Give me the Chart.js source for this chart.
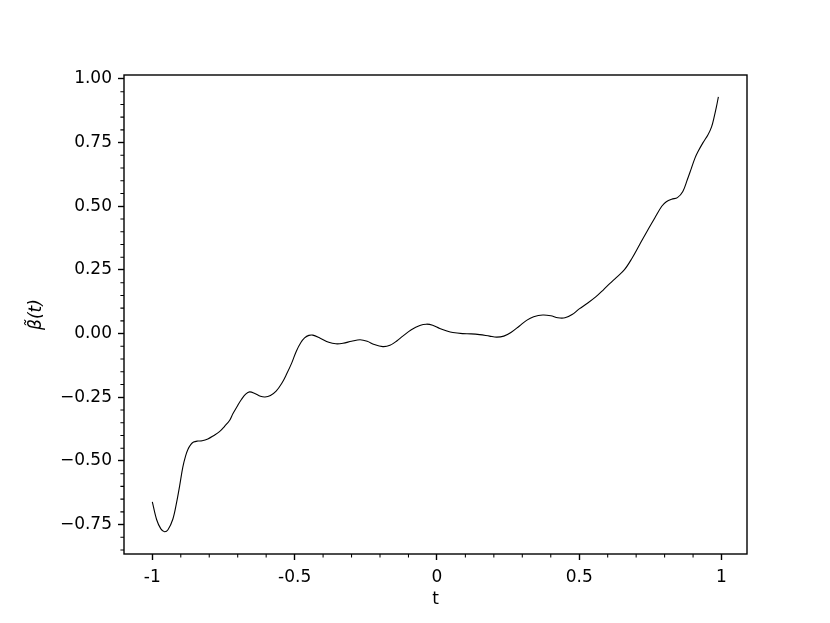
<!DOCTYPE html>
<html><head><meta charset="utf-8">
<script src="https://cdn.jsdelivr.net/npm/chart.js@4"></script>
<style>html,body{margin:0;padding:0;background:#fff;overflow:hidden}</style>
</head><body>
<canvas id="c" width="830" height="623"></canvas>
<script>
const tValues = [
 -1.00,-0.985,-0.97,-0.957,-0.945,-0.928,-0.915,-0.904,-0.893,-0.883,
 -0.875,-0.865,-0.855,-0.84,-0.825,-0.805,-0.785,-0.764,-0.746,-0.728,
 -0.717,-0.70,-0.687,-0.672,-0.658,-0.64,-0.62,-0.604,-0.585,-0.565,
 -0.545,-0.529,-0.51,-0.494,-0.478,-0.465,-0.45,-0.436,-0.41,-0.38,
 -0.355,-0.33,-0.30,-0.27,-0.245,-0.22,-0.19,-0.165,-0.14,-0.12,
 -0.09,-0.06,-0.037,-0.015,0.01,0.035,0.056,0.09,0.12,0.15,
 0.185,0.21,0.235,0.26,0.29,0.315,0.34,0.372,0.40,0.425,
 0.45,0.475,0.50,0.53,0.56,0.585,0.607,0.63,0.659,0.685,
 0.712,0.74,0.765,0.79,0.806,0.825,0.845,0.864,0.88,0.894,
 0.907,0.917,0.935,0.952,0.965,0.975,0.982,0.989
];
const betaValues = [
 -0.661,-0.730,-0.767,-0.778,-0.770,-0.729,-0.665,-0.598,-0.525,-0.480,
 -0.455,-0.436,-0.426,-0.422,-0.421,-0.414,-0.401,-0.385,-0.364,-0.340,
 -0.315,-0.282,-0.259,-0.238,-0.229,-0.235,-0.246,-0.249,-0.243,-0.226,
 -0.195,-0.161,-0.115,-0.069,-0.035,-0.017,-0.007,-0.006,-0.018,-0.034,
 -0.040,-0.038,-0.030,-0.024,-0.030,-0.043,-0.051,-0.046,-0.028,-0.010,
 0.015,0.032,0.037,0.033,0.020,0.010,0.004,0.000,-0.001,-0.004,
 -0.010,-0.014,-0.010,0.004,0.030,0.052,0.066,0.073,0.070,0.062,
 0.062,0.075,0.097,0.120,0.146,0.172,0.196,0.220,0.251,0.295,
 0.349,0.405,0.453,0.500,0.518,0.528,0.534,0.558,0.605,0.649,
 0.690,0.714,0.750,0.780,0.812,0.855,0.890,0.930
];
const xTickValues = [-1, -0.5, 0, 0.5, 1];
const xTickLabels = ['-1', '-0.5', '0', '0.5', '1'];
const yTickValues = [1, 0.75, 0.5, 0.25, 0, -0.25, -0.5, -0.75];
const yTickLabels = ['1.00', '0.75', '0.50', '0.25', '0.00', '\u22120.25', '\u22120.50', '\u22120.75'];
const xTitle = 't';
const yTitle = '\u03B2\u0303(t)';
const xRange = [-1.0995, 1.0895];
const yRange = [-0.8655, 1.0155];

Chart.defaults.font.family = "'DejaVu Sans', sans-serif";
Chart.defaults.font.size = 17;
Chart.defaults.color = '#000';

const frame = {
  id: 'frame',
  afterDraw(chart) {
    const {ctx, chartArea: a, scales: {x, y}} = chart;
    ctx.save();
    ctx.strokeStyle = '#000';
    ctx.lineWidth = 1.05;
    ctx.beginPath();
    for (let i = -10; i <= 10; i++) {
      if (i % 5 === 0) continue;
      const px = x.getPixelForValue(i / 10);
      ctx.moveTo(px, a.bottom); ctx.lineTo(px, a.bottom + 3.6);
    }
    for (let i = -17; i <= 20; i++) {
      if (i % 5 === 0) continue;
      const py = y.getPixelForValue(i * 0.05);
      if (py < a.top || py > a.bottom) continue;
      ctx.moveTo(a.left, py); ctx.lineTo(a.left - 3.6, py);
    }
    ctx.stroke();
    ctx.lineWidth = 1.4;
    ctx.strokeRect(a.left, a.top, a.right - a.left, a.bottom - a.top);
    ctx.restore();
  }
};

new Chart(document.getElementById('c'), {
  type: 'line',
  data: {
    datasets: [{
      data: tValues.map((t, i) => ({x: t, y: betaValues[i]})),
      borderColor: '#000',
      borderWidth: 1.1,
      pointRadius: 0,
      fill: false,
      tension: 0.35
    }]
  },
  options: {
    responsive: false,
    animation: false,
    devicePixelRatio: 1,
    layout: {padding: {left: 0, top: 75, right: 83, bottom: 0}},
    plugins: {legend: {display: false}, tooltip: {enabled: false}},
    scales: {
      x: {
        type: 'linear', min: xRange[0], max: xRange[1],
        afterBuildTicks: s => { s.ticks = xTickValues.map(v => ({value: v})); },
        afterFit: s => { s.height = 69; },
        ticks: {callback: (v, i) => xTickLabels[i], autoSkip: false, maxRotation: 0, padding: 7, color: '#000'},
        grid: {drawOnChartArea: false, drawTicks: true, tickLength: 6, tickWidth: 1.4, tickColor: '#000'},
        border: {display: false},
        title: {display: true, text: xTitle, padding: {top: 0, bottom: 13}, color: '#000'}
      },
      y: {
        type: 'linear', min: yRange[0], max: yRange[1],
        afterBuildTicks: s => { s.ticks = yTickValues.map(v => ({value: v})); },
        afterFit: s => { s.width = 124; },
        ticks: {callback: (v, i) => yTickLabels[i], autoSkip: false, padding: 6, color: '#000'},
        grid: {drawOnChartArea: false, drawTicks: true, tickLength: 6, tickWidth: 1.4, tickColor: '#000'},
        border: {display: false},
        title: {display: true, text: yTitle, padding: {top: 26, bottom: 0}, color: '#000',
                font: {style: 'italic', size: 17}}
      }
    }
  },
  plugins: [frame]
});
</script>
</body></html>
